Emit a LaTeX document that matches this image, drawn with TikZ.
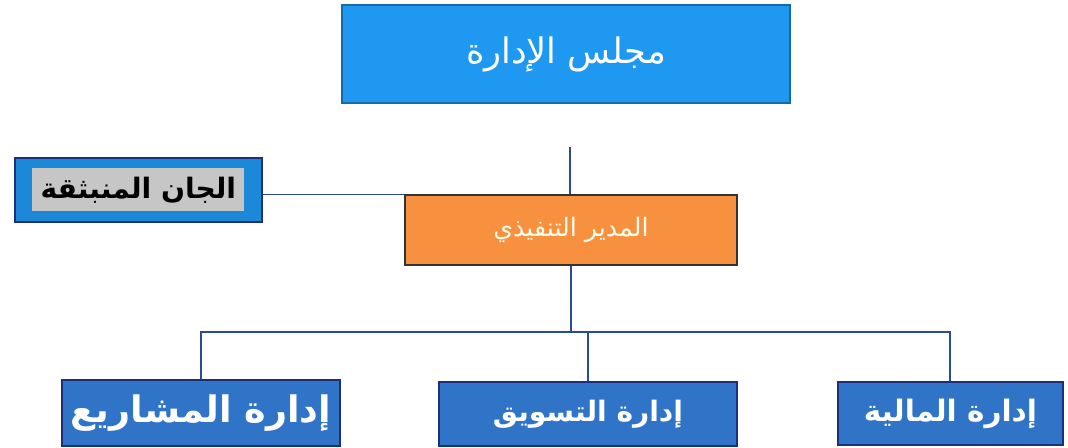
\documentclass[tikz,border=0pt]{standalone}
\usepackage{fontspec}
\usepackage{xcolor}
\TeXXeTstate=1
\newfontfamily\arabicfont[Script=Arabic]{DejaVu Sans}

\definecolor{boardblue}{HTML}{1E98F0}
\definecolor{deptblue}{HTML}{2F74C6}
\definecolor{navy}{HTML}{1C2F7A}
\definecolor{ceoorange}{HTML}{F7913F}
\definecolor{linkblue}{HTML}{2A4A9C}

\tikzset{
    box/.style={draw=navy, line width=0.9pt, inner sep=0pt, align=center},
    dept/.style={box, fill=deptblue, text=white},
    conn/.style={draw=linkblue, line width=1.5pt}
}

\begin{document}
\begin{tikzpicture}
    \useasboundingbox (0,0) rectangle (26.7,11.2);

    % top level
    \node[box, draw=boardblue!70!black, fill=boardblue, text=white, font=\arabicfont\fontsize{25}{28}\selectfont,
          minimum width=11.2cm, minimum height=2.45cm] (board) at (14.15,9.85) {\beginR مجلس الإدارة\endR};

    % committees beside the manager
    \node[box, fill=boardblue!90!black, minimum width=6.175cm, minimum height=1.6cm] (committee) at (3.46,6.45) {};
    \node[fill=gray!45, inner sep=0pt, minimum width=5.3cm, minimum height=1.075cm,
          font=\arabicfont\bfseries\fontsize{20}{22}\selectfont] (committeetext) at (committee.center) {\beginR الجان المنبثقة\endR};

    \node[box, draw=black!80, fill=ceoorange, text=yellow!8, font=\arabicfont\fontsize{18}{21}\selectfont,
          minimum width=8.3cm, minimum height=1.75cm] (ceo) at (14.275,5.45) {\beginR المدير التنفيذي\endR};

    % departments
    \node[dept, font=\arabicfont\bfseries\fontsize{26}{28}\selectfont,
          minimum width=6.95cm, minimum height=1.65cm] (projects) at (5.025,0.875) {\beginR إدارة المشاريع\endR};
    \node[dept, font=\arabicfont\bfseries\fontsize{20}{24}\selectfont,
          minimum width=7.45cm, minimum height=1.6cm] (marketing) at (14.7,0.85) {\beginR إدارة التسويق\endR};
    \node[dept, font=\arabicfont\bfseries\fontsize{21}{24}\selectfont,
          minimum width=5.625cm, minimum height=1.575cm] (finance) at (23.76,0.86) {\beginR إدارة المالية\endR};

    % connectors
    \coordinate (boardlink) at (14.25,7.525);
    \draw[conn, line width=1pt] (boardlink) -- (boardlink |- ceo.north);
    \draw[conn, line width=1pt] (committee.east |- ceo.north west) -- (ceo.north west);

    \draw[conn] (ceo.south) -- ++(0,-1.65) coordinate (hub);
    \draw[conn] (projects.north) |- (hub) -| (finance.north);
    \draw[conn] (hub -| marketing.north) -- (marketing.north);
\end{tikzpicture}
\end{document}
